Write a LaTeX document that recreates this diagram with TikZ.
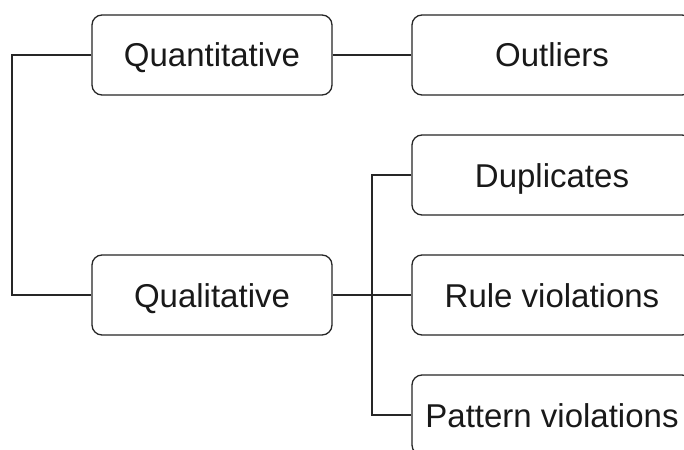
\documentclass[tikz,border=0pt]{standalone}
\usepackage{fontspec}
\setmainfont{Liberation Sans}
\begin{document}
\begin{tikzpicture}[x=1pt,y=-1pt,
  box/.style={draw=black!85, line width=1.3pt, rounded corners=10pt, fill=white,
    minimum height=80pt, inner sep=0pt, text height=24pt, text depth=0pt,
    font=\fontsize{33pt}{38pt}\selectfont, text=black!90},
  leftbox/.style={box, minimum width=240pt},
  rightbox/.style={box, minimum width=280pt},
  link/.style={draw=black!85, line width=1.3pt}]
  \useasboundingbox (0,0) rectangle (684,449);
  \clip (0,0) rectangle (684,449);
  \fill[white] (0,0) rectangle (684,449);

  % category boxes
  \node[leftbox] (quant) at (212,55) {Quantitative};
  \node[leftbox] (qual) at (212,295) {Qualitative};

  % error type boxes
  \node[rightbox] (out) at (552,55) {Outliers};
  \node[rightbox] (dup) at (552,175) {Duplicates};
  \node[rightbox] (rule) at (552,295) {Rule violations};
  \node[rightbox] (pat) at (552,415) {Pattern violations};

  % bracket joining the two categories on the left
  \coordinate (lt) at (12,55);
  \coordinate (lb) at (12,295);
  \draw[link] (quant.west) -- (lt) -- (lb) -- (qual.west);

  % quantitative branch
  \draw[link] (quant.east) -- (out.west);

  % qualitative branches
  \coordinate (bt) at (372,175);
  \coordinate (bb) at (372,415);
  \draw[link] (qual.east) -- (rule.west);
  \draw[link] (dup.west) -- (bt) -- (bb) -- (pat.west);
\end{tikzpicture}
\end{document}
